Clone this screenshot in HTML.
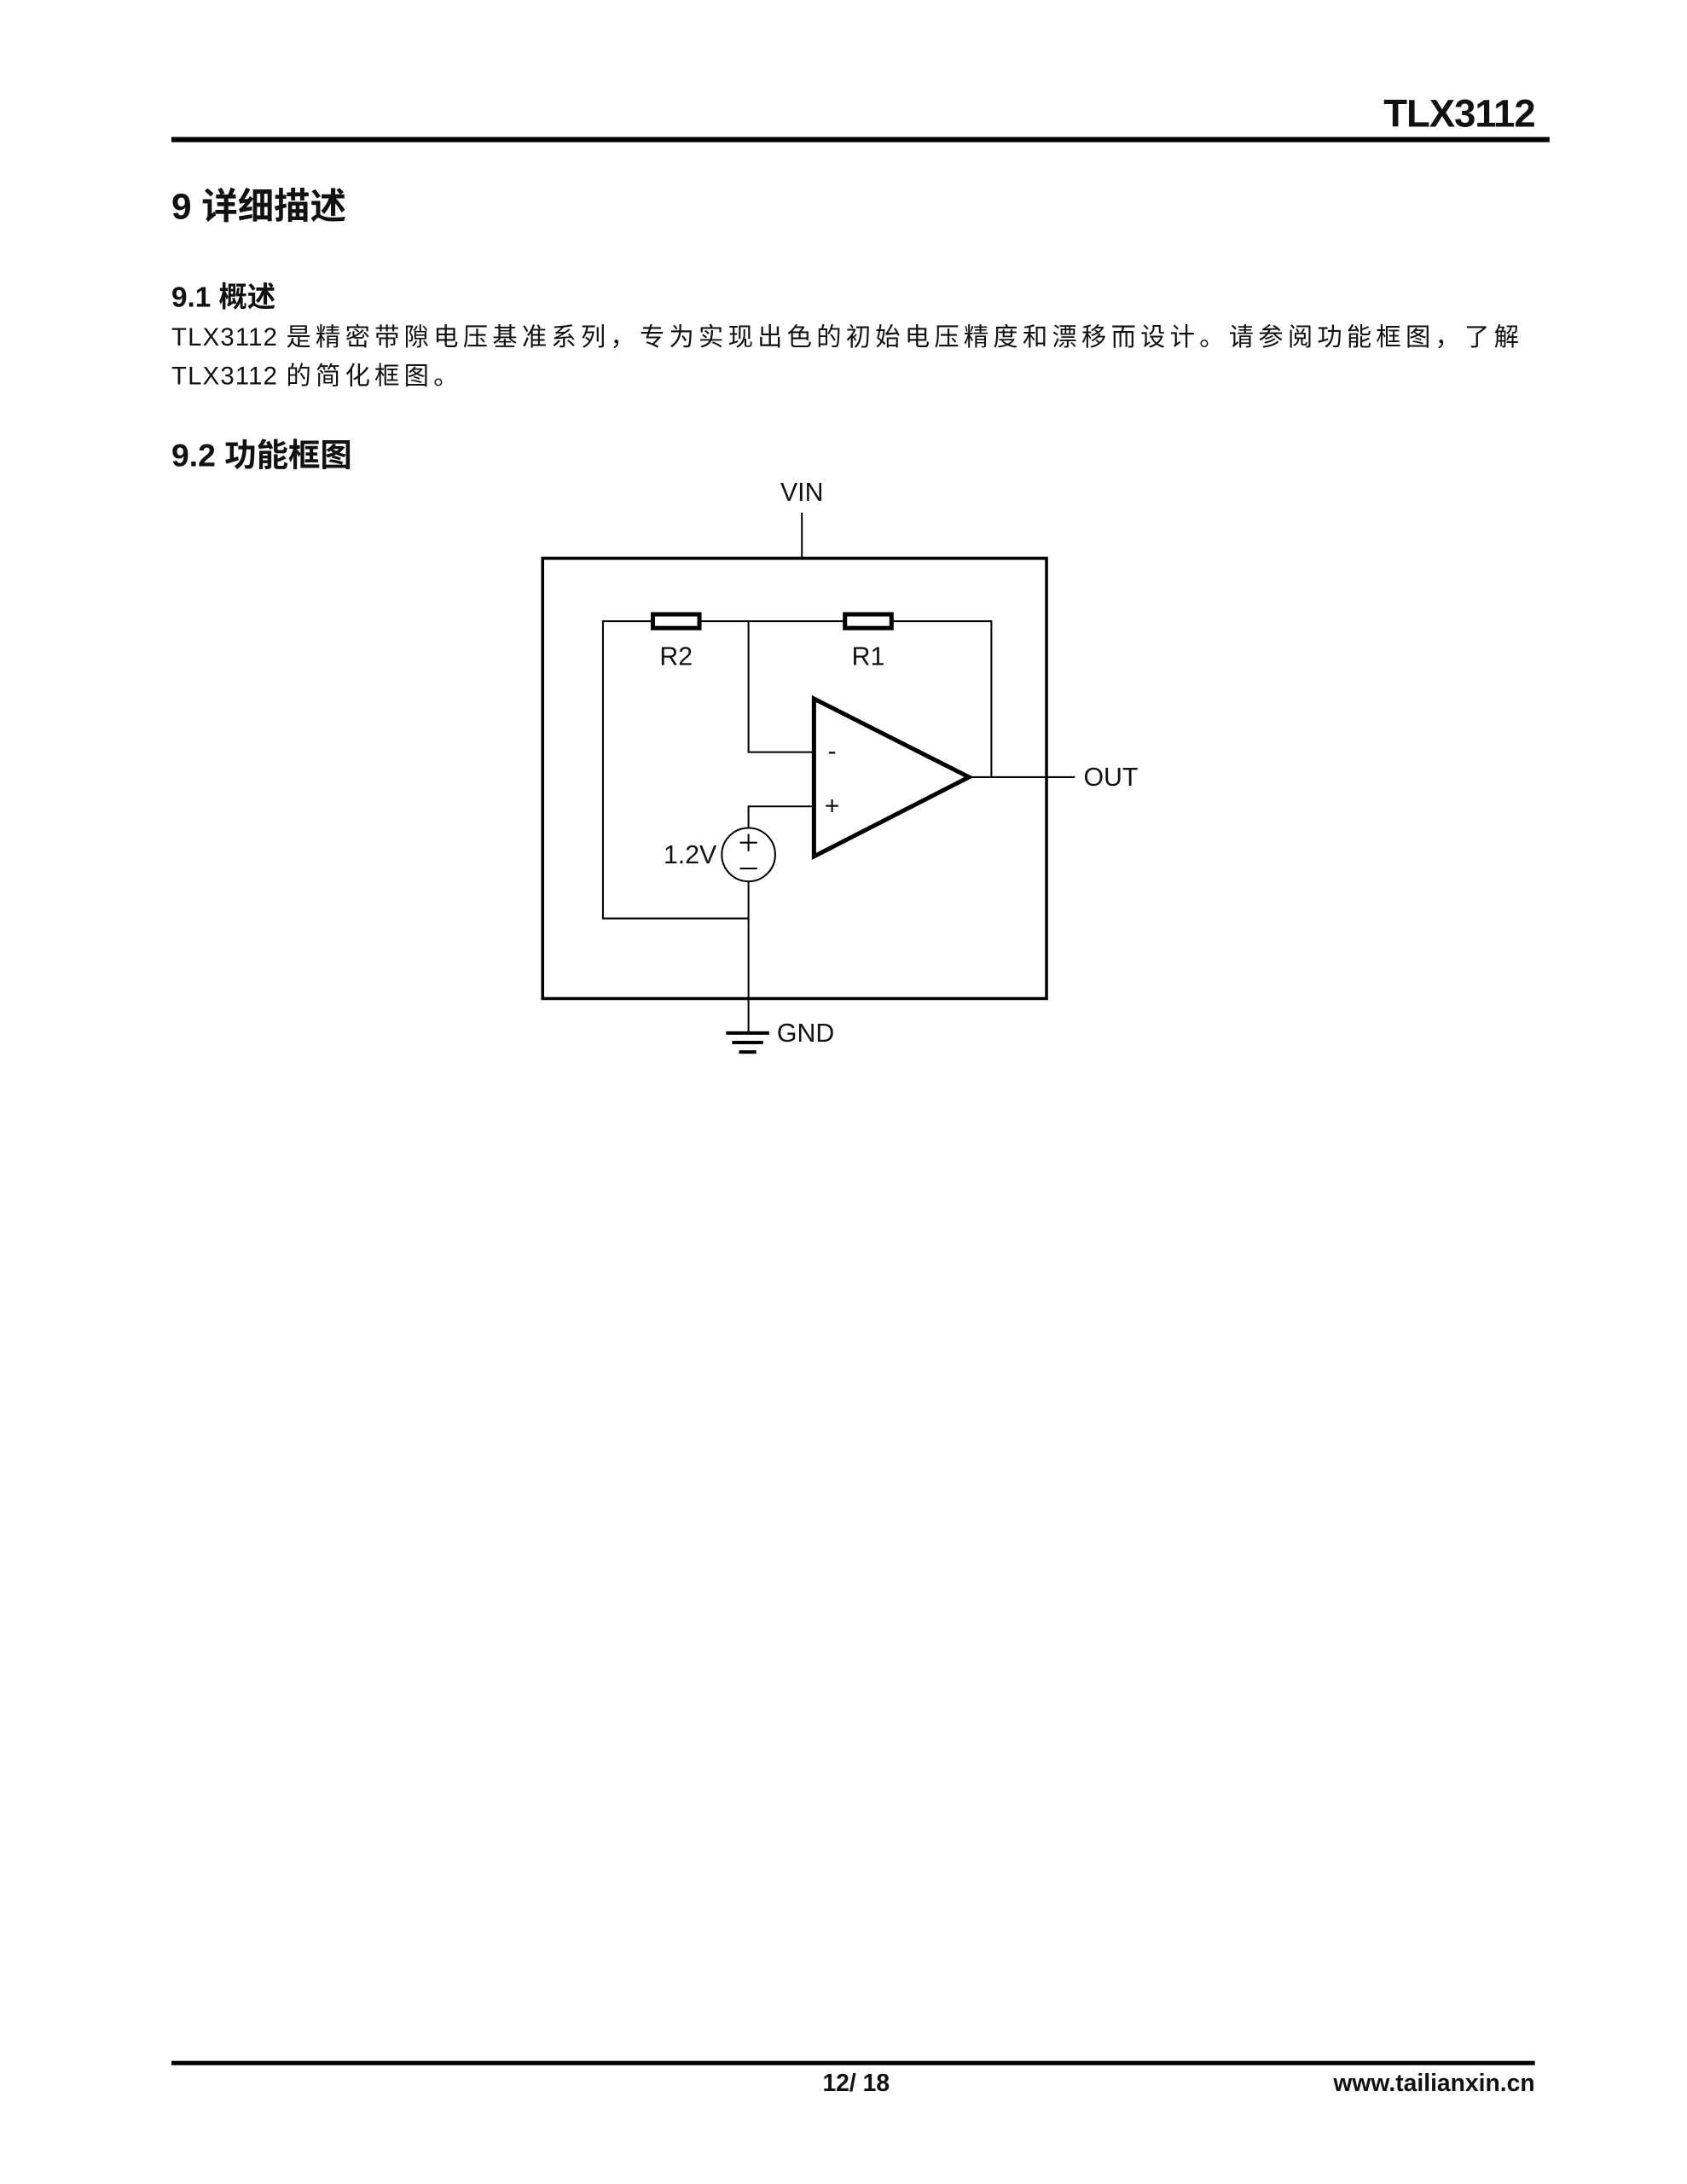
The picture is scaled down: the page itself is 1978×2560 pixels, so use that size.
<!DOCTYPE html>
<html><head><meta charset="utf-8"><style>
body{margin:0;background:#fff;}
.o{width:1978px;height:2560px;overflow:hidden;position:relative;}
.p{position:absolute;left:0;top:0;width:1978px;height:2560px;transform:scale(1.0099);transform-origin:0 0;font-family:"Liberation Sans","Noto Sans CJK SC",sans-serif;color:#111;}
.a{position:absolute;white-space:nowrap;}
.c{letter-spacing:5.2px}
</style></head><body><div class="o"><div class="p">
<div class="a" style="right:196px;top:106px;font-size:45px;font-weight:bold;letter-spacing:-1px">TLX3112</div>
<div class="a" style="left:199px;top:159px;width:1600px;height:6px;background:#000"></div>
<div class="a" style="left:199px;top:206px;font-size:42px;font-weight:bold">9 详细描述</div>
<div class="a" style="left:199px;top:318px;font-size:33px;font-weight:bold">9.1 概述</div>
<div class="a" style="left:199px;top:368px;font-size:29px;letter-spacing:1.2px">TLX3112 <span class="c">是精密带隙电压基准系列，专为实现出色的初始电压精度和漂移而设计。请参阅功能框图，了解</span></div>
<div class="a" style="left:199px;top:413px;font-size:29px;letter-spacing:1.2px">TLX3112 <span class="c">的简化框图。</span></div>
<div class="a" style="left:199px;top:498px;font-size:37px;font-weight:bold">9.2 功能框图</div>
<svg class="a" style="left:0;top:0" width="1978" height="2560" font-family="Liberation Sans, sans-serif" font-size="30">
<g stroke="#000" fill="none" stroke-width="2">
<rect x="630" y="648" width="585" height="511" stroke-width="3.5"/>
<line x1="931" y1="595" x2="931" y2="648"/>
<polyline points="869,1066 700,1066 700,721 1151,721 1151,902"/>
<line x1="1125" y1="902" x2="1248" y2="902"/>
<polyline points="869,721 869,873 945,873"/>
<polyline points="945,936 869,936 869,961"/>
<line x1="869" y1="1023" x2="869" y2="1199"/>
<circle cx="869" cy="992" r="31"/>
<polygon points="945,811 945,994 1125,902" stroke-width="5"/>
<rect x="758" y="713" width="54" height="16" stroke-width="5" fill="#fff"/>
<rect x="981" y="713" width="54" height="16" stroke-width="5" fill="#fff"/>
<line x1="843" y1="1199" x2="893" y2="1199" stroke-width="4"/>
<line x1="850" y1="1210" x2="886" y2="1210" stroke-width="4"/>
<line x1="858" y1="1221" x2="878" y2="1221" stroke-width="4"/>
<line x1="859" y1="978" x2="879" y2="978"/><line x1="869" y1="968" x2="869" y2="988"/>
<line x1="859" y1="1008" x2="879" y2="1008"/>
</g>
<g fill="#111">
<text x="931" y="581" text-anchor="middle">VIN</text>
<text x="785" y="772" text-anchor="middle">R2</text>
<text x="1008" y="772" text-anchor="middle">R1</text>
<text x="1258" y="912">OUT</text>
<text x="966" y="882" text-anchor="middle">-</text>
<text x="966" y="945" text-anchor="middle">+</text>
<text x="832" y="1002" text-anchor="end">1.2V</text>
<text x="902" y="1209">GND</text>
</g>
</svg>
<div class="a" style="left:199px;top:2392px;width:1583px;height:5px;background:#000"></div>
<div class="a" style="left:955px;top:2402px;font-size:28px;font-weight:bold">12/ 18</div>
<div class="a" style="right:196px;top:2402px;font-size:28px;font-weight:bold">www.tailianxin.cn</div>
</div></div></body></html>
